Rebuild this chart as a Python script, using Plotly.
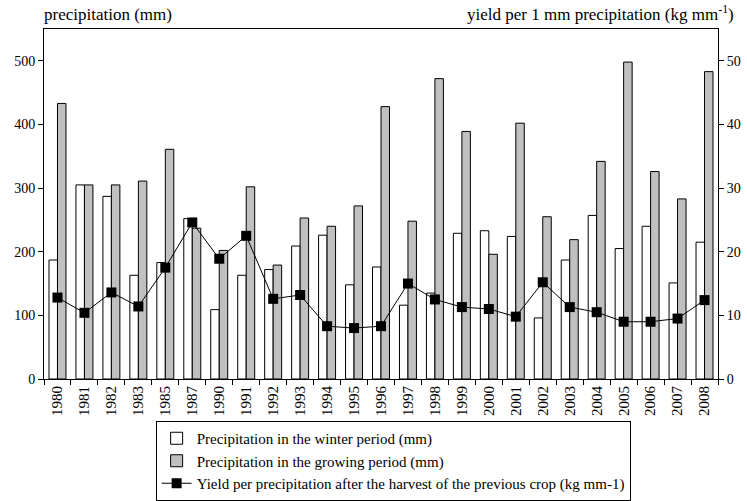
import plotly.graph_objects as go

years = ["1980", "1981", "1982", "1983", "1985", "1987", "1990", "1991", "1992", "1993",
         "1994", "1995", "1996", "1997", "1998", "1999", "2000", "2001", "2002", "2003",
         "2004", "2005", "2006", "2007", "2008"]
winter = [187, 305, 287, 163, 183, 252, 109, 163, 172, 209,
          226, 148, 176, 116, 135, 229, 233, 224, 96, 187,
          257, 205, 240, 151, 215]
growing = [433, 305, 305, 311, 361, 237, 202, 302, 179, 253,
           240, 272, 428, 248, 472, 389, 196, 402, 255, 219,
           342, 498, 326, 283, 483]
yield_pp = [12.8, 10.4, 13.6, 11.4, 17.5, 24.6, 18.9, 22.5, 12.6, 13.2,
            8.3, 8.0, 8.3, 15.0, 12.5, 11.3, 11.0, 9.8, 15.2, 11.3,
            10.5, 9.0, 9.0, 9.5, 12.4]

FONT = "Liberation Serif, Times New Roman, serif"

fig = go.Figure()
fig.add_trace(go.Bar(x=years, y=winter, name="Precipitation in the winter period (mm)",
                     marker=dict(color="white", line=dict(color="black", width=1))))
fig.add_trace(go.Bar(x=years, y=growing, name="Precipitation in the growing period (mm)",
                     marker=dict(color="#c0c0c0", line=dict(color="black", width=1))))
fig.add_trace(go.Scatter(x=years, y=yield_pp, yaxis="y2", mode="lines+markers",
                         name="Yield per precipitation after the harvest of the previous crop (kg mm-1)",
                         line=dict(color="black", width=1),
                         marker=dict(symbol="square", size=10, color="black")))

fig.update_layout(
    width=747, height=501,
    margin=dict(l=44, r=29, t=29, b=122, autoexpand=False),
    paper_bgcolor="white", plot_bgcolor="white",
    font=dict(family=FONT, size=15, color="black"),
    barmode="group", bargap=0.37, bargroupgap=0,
    xaxis=dict(type="category", range=[-0.5, len(years) - 0.5], showline=True,
               linecolor="black", linewidth=1, mirror=True,
               ticks="outside", tickson="boundaries", ticklen=5, tickcolor="black",
               tickangle=-90, tickfont=dict(family=FONT, size=15), showgrid=False,
               automargin=False),
    yaxis=dict(range=[0, 550], tickvals=[0, 100, 200, 300, 400, 500], showline=True,
               linecolor="black", linewidth=1, ticks="outside", ticklen=5,
               tickcolor="black", showgrid=False, zeroline=False, automargin=False,
               tickfont=dict(family=FONT, size=14)),
    yaxis2=dict(range=[0, 55], tickvals=[0, 10, 20, 30, 40, 50], overlaying="y", side="right",
                showline=True, linecolor="black", linewidth=1, ticks="outside", ticklen=5,
                tickcolor="black", showgrid=False, zeroline=False, automargin=False,
                tickfont=dict(family=FONT, size=14)),
    legend=dict(x=0.518, y=-0.12, xanchor="center", yanchor="top", bordercolor="black",
                borderwidth=1, font=dict(family=FONT, size=15), tracegroupgap=0, itemwidth=30,
                bgcolor="white"),
    showlegend=True,
    annotations=[
        dict(text="precipitation (mm)", xref="paper", yref="paper", x=0.0, y=1.0,
             xanchor="left", yanchor="bottom", showarrow=False, yshift=3, xshift=-2,
             font=dict(family=FONT, size=17)),
        dict(text="yield per 1 mm precipitation (kg mm<sup>-1</sup>)", xref="paper", yref="paper",
             x=1.0, y=1.0, xanchor="right", yanchor="bottom", showarrow=False, xshift=18, yshift=3,
             font=dict(family=FONT, size=17)),
    ],
)

fig.write_html("out.html", config={"displayModeBar": False},
               post_script="document.body.style.margin='0';")
